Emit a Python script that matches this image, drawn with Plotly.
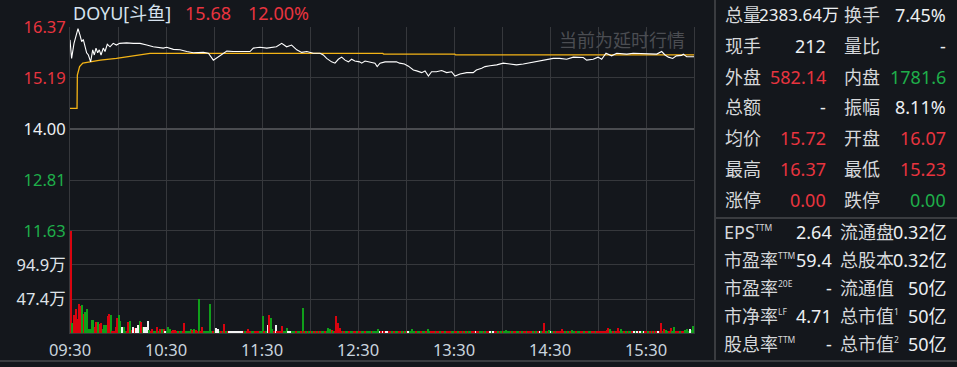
import plotly.graph_objects as go

# ---------------- data ----------------
# minutes after 09:30 for the price line
price_min = [0, 1, 2.5, 3.75, 5, 6.25, 7.3, 8.3, 9.4, 10.4, 11.5, 12.9, 14.2, 15.2, 16.25, 17.3, 18.3, 19.4,
             20.8, 21.9, 23.3, 25, 27, 29, 31, 35.4, 39.6, 43.75, 48, 52, 58.3, 60.4, 64.6, 68.75, 73, 77,
             83.3, 86.5, 89.6, 92.7, 95.8, 98, 102, 112.5, 114.6, 118.75, 123, 129, 132.3, 135.4, 138.5,
             141.7, 144.8, 148, 152, 156.25, 158.3, 160.4, 163.5, 165.6, 167.7, 169.8, 171.9, 174, 176, 178,
             181, 182.3, 184.4, 187.5, 190.6, 192, 193.75, 196.9, 200, 204, 206, 209, 211.5, 214.6, 216.7,
             219.8, 221.9, 224, 226, 229, 232.3, 235.4, 238.5, 240.6, 243.75, 248, 252, 254, 257.3, 259.4,
             262.5, 266.7, 270.8, 275, 279, 283.3, 287.5, 291.7, 297.9, 302, 306, 310.4, 314.6, 320.8,
             322.9, 327, 330, 332.3, 335, 338.5, 341.7, 348, 352, 360.4, 366.7, 369.8, 371.9, 374, 376.7,
             379, 382.3, 383.3, 385.4, 390]
price_val = [16.07, 15.64, 15.99, 16.15, 16.33, 16.18, 16.03, 16.08, 15.91, 15.77, 15.72, 15.56, 15.84, 15.72,
             15.88, 15.77, 15.84, 15.72, 15.88, 15.80, 15.97, 15.91, 15.99, 15.95, 15.99, 16.00, 15.99, 15.99,
             15.95, 15.91, 15.88, 15.90, 15.85, 15.84, 15.80, 15.77, 15.78, 15.76, 15.60, 15.68, 15.77, 15.81,
             15.80, 15.80, 15.88, 15.90, 15.88, 15.91, 15.99, 15.91, 15.95, 15.84, 15.78, 15.80, 15.76, 15.76,
             15.72, 15.64, 15.56, 15.53, 15.62, 15.67, 15.60, 15.56, 15.62, 15.58, 15.56, 15.53, 15.58, 15.55,
             15.53, 15.45, 15.53, 15.56, 15.56, 15.56, 15.53, 15.51, 15.46, 15.37, 15.35, 15.31, 15.35, 15.23,
             15.33, 15.33, 15.36, 15.31, 15.33, 15.23, 15.28, 15.31, 15.31, 15.37, 15.41, 15.45, 15.47, 15.49,
             15.53, 15.51, 15.49, 15.51, 15.54, 15.56, 15.60, 15.64, 15.64, 15.62, 15.67, 15.66, 15.60, 15.62,
             15.67, 15.62, 15.76, 15.70, 15.76, 15.74, 15.76, 15.74, 15.74, 15.80, 15.72, 15.67, 15.64, 15.70,
             15.71, 15.74, 15.68, 15.68]

avg_min = [0, 4.4, 4.6, 6, 8, 12, 19, 29, 40, 50, 195.5, 196, 240.5, 241, 390]
avg_val = [14.48, 14.48, 15.25, 15.45, 15.53, 15.56, 15.60, 15.64, 15.70, 15.755, 15.755, 15.74, 15.74, 15.72, 15.72]

# per-minute volume (万股) and direction (R up, G down, W flat)
volume = [
    180, 14, 25, 34, 20, 41, 38, 39, 27, 30, 34, 6, 6, 18, 18, 9, 15, 16, 13, 14,
    6, 11, 11, 24, 26, 25, 3, 2, 8, 21, 25, 17, 8, 8, 3, 3, 15, 17, 4, 8,
    7, 7, 11, 17, 15, 8, 8, 8, 17, 4, 3, 5, 2, 3, 8, 3, 6, 6, 6, 3,
    3, 8, 6, 3, 4, 4, 2, 2, 3, 2, 2, 14, 2, 2, 2, 6, 4, 6, 4, 3,
    48, 3, 9, 3, 3, 2, 3, 41, 3, 3, 3, 7, 6, 2, 3, 2, 12, 3, 2, 3,
    3, 3, 3, 3, 3, 3, 3, 3, 2, 2, 3, 5, 2, 3, 3, 2, 3, 3, 2, 3,
    24, 3, 2, 11, 25, 21, 6, 2, 11, 3, 3, 3, 10, 3, 3, 7, 3, 2, 2, 3,
    3, 3, 3, 2, 3, 35, 3, 2, 3, 3, 3, 2, 3, 3, 2, 3, 2, 3,
    3, 2, 3, 7, 6, 4, 2, 3, 24, 14, 7, 3, 2, 2, 3, 3, 2, 2, 3, 3,
    2, 2, 3, 2, 3, 3, 2, 2, 3, 3, 2, 2, 3, 2, 5, 3, 2, 3, 2, 3,
    2, 3, 3, 3, 2, 3, 3, 3, 2, 3, 2, 2, 2, 2, 3, 6, 3, 3, 2, 3,
    3, 2, 3, 2, 3, 5, 2, 3, 3, 3, 3, 3, 3, 3, 2, 3, 3, 3,
    3, 3, 3, 3, 2, 3, 3, 3, 2, 3, 2, 3, 2, 2, 2, 3, 3, 2, 3, 2,
    3, 3, 2, 2, 2, 2, 3, 2, 3, 2, 2, 2, 3, 3, 2, 3, 4, 3, 3, 2,
    3, 3, 3, 2, 2, 2, 3, 3, 3, 2, 3, 3, 2, 2, 3, 2, 3, 3, 2, 3,
    14, 3, 2, 4, 3, 3, 2, 2, 3, 3, 2, 6, 3, 3, 2, 2, 3, 4,
    3, 2, 3, 2, 3, 2, 3, 2, 3, 2, 3, 2, 3, 2, 2, 3, 2, 3, 2, 3,
    3, 4, 7, 6, 3, 2, 3, 3, 7, 3, 5, 3, 2, 3, 2, 3, 2, 2, 3, 2,
    3, 2, 3, 2, 3, 3, 3, 3, 2, 3, 3, 3, 3, 3, 3, 14, 3, 6, 4, 3,
    3, 7, 3, 8, 3, 2, 3, 3, 3, 3, 4, 5, 3, 5, 4, 10,
]
direction = (
    "RGRRRRRGRG" "GGGGGRRGRR" "GGGRRGRRRR" "GGWGGRRGRW" "RWWGRGWWWG" "RRGGRGRGRW" "GGGRRRRGRG" "RRGGGGRGRR"
    "GRRGGGGGGR" "GWWGRGRGRW" "WWWWWWWWRG" "RRRGGRRRGG" "GRGWRGGRWR" "RRRGGGWWGG" "GRGGRGRGRG" "RGRGRGRG"
    "GRGGGRGRRR" "RRGRGGRGGR" "RGRRGGRGGG" "RGGGGWRWRW" "WRRGRGGRRG" "RGRWGGGGRG" "GRGGRGGRRR" "GRRGRRGR"
    "RRGGRRGRRG" "RGRGGRRWRR" "GGRGRRWGWR" "RGRGRGGGGR" "GRRGGRGRRG" "RRRGRGRWGR" "RGRGWGRGRR" "RRRGRGRG"
    "GGRGGRRGRR" "GGRRGRRRRR" "RRRGGRGRRR" "GGRGRGGRWG" "WRWGWRRGRG" "RGRWRRGRGG" "RRGGRRRGRR" "GGGWGG"
)
vol_colors = {"R": "#d9040f", "G": "#109f1a", "W": "#f2f2f2"}

label_ticks = [0, 60, 120, 180, 240, 300, 360]
time_labels = ["09:30", "10:30", "11:30", "12:30", "13:30", "14:30", "15:30"]

price_ticks = [11.63, 12.81, 14.00, 15.19, 16.37]
price_tick_colors = ["#1fae4a", "#1fae4a", "#eef1f4", "#e8343f", "#e8343f"]
vol_ticks = [47.4, 94.9]
vol_tick_labels = ["47.4万", "94.9万"]
vol_top = 142.3
prev_close = 14.00

RED, GREEN, WHITE, LABEL = "#e8343f", "#1fae4a", "#eceff2", "#d6d8db"
SUP = '<sup><span style="font-size:8.5px">{}</span></sup>'
quote_rows = [
    ("总量", "2383.64万", WHITE, "换手", "7.45%", WHITE),
    ("现手", "212", WHITE, "量比", "-", WHITE),
    ("外盘", "582.14", RED, "内盘", "1781.6", GREEN),
    ("总额", "-", WHITE, "振幅", "8.11%", WHITE),
    ("均价", "15.72", RED, "开盘", "16.07", RED),
    ("最高", "16.37", RED, "最低", "15.23", RED),
    ("涨停", "0.00", RED, "跌停", "0.00", GREEN),
]
fund_rows = [
    ("EPS", "TTM", "2.64", "流通盘", "", "0.32亿"),
    ("市盈率", "TTM", "59.4", "总股本", "", "0.32亿"),
    ("市盈率", "20E", "-", "流通值", "", "50亿"),
    ("市净率", "LF", "4.71", "总市值", "1", "50亿"),
    ("股息率", "TTM", "-", "总市值", "2", "50亿"),
]

# ---------------- layout helpers ----------------
W, H = 957, 367
L, R, T, B = 70, 263, 27, 34
PW, PH = W - L - R, H - T - B
FONT = "Noto Sans, Noto Sans CJK SC, sans-serif"
BG = "#14171c"
GRID = "#36383c"


def px(x):
    return (x - L) / PW


def py(y):
    return (H - B - y) / PH


fig = go.Figure()

fig.add_trace(go.Bar(
    x=[i + 0.5 for i in range(len(volume))], y=volume, yaxis="y2", xaxis="x",
    marker=dict(color=[vol_colors[c] for c in direction[:len(volume)]], line=dict(width=0)),
    width=0.55, hoverinfo="skip", showlegend=False,
))
fig.add_trace(go.Scatter(
    x=avg_min, y=avg_val, mode="lines", line=dict(color="#f4b416", width=1.3),
    hoverinfo="skip", showlegend=False,
))
fig.add_trace(go.Scatter(
    x=price_min, y=price_val, mode="lines", line=dict(color="#ffffff", width=1.1),
    hoverinfo="skip", showlegend=False,
))

annotations = []


def ann(text, x, y, color, size=18, anchor="left"):
    annotations.append(dict(text=text, x=px(x), y=py(y), xref="paper", yref="paper",
                            xanchor=anchor, yanchor="middle", showarrow=False,
                            font=dict(family=FONT, size=size, color=color)))


# header
ann("DOYU[斗鱼]", 71, 13, "#d6e2ee")
ann("15.68", 183, 13, RED)
ann("12.00%", 246, 13, RED)
ann("当前为延时行情", 687, 40, "#4b4d52", anchor="right")

# quote block
for i, (l1, v1, c1, l2, v2, c2) in enumerate(quote_rows):
    yy = 15 + i * 30.8
    ann(l1, 723, yy, LABEL)
    if i == 0:
        ann(v1, 841, yy, c1, size=17, anchor="right")
    else:
        ann(v1, 828, yy, c1, anchor="right")
    ann(l2, 842, yy, LABEL)
    ann(v2, 948, yy, c2, anchor="right")

for i, (l1, s1, v1, l2, s2, v2) in enumerate(fund_rows):
    yy = 232 + i * 27.9
    ann(l1 + SUP.format(s1), 722, yy, LABEL)
    ann(v1, 834, yy, WHITE, anchor="right")
    ann(l2 + (SUP.format(s2) if s2 else ""), 838, yy, LABEL)
    ann(v2, 949, yy, WHITE, anchor="right")

shapes = [
    dict(type="line", xref="paper", yref="y", x0=0, x1=1, y0=prev_close, y1=prev_close,
         line=dict(color="#4a4c50", width=2)),
    dict(type="line", xref="paper", yref="paper", x0=px(715), x1=px(715), y0=py(0), y1=py(361),
         line=dict(color="#3a3c40", width=2)),
    dict(type="line", xref="paper", yref="paper", x0=px(715), x1=px(W), y0=py(218), y1=py(218),
         line=dict(color="#3a3c40", width=2)),
    dict(type="line", xref="paper", yref="paper", x0=px(0), x1=px(W), y0=py(361), y1=py(361),
         line=dict(color="#3a3c40", width=2)),
]

split = (H - B - 231) / PH

fig.update_layout(
    width=W, height=H, margin=dict(l=L, r=R, t=T, b=B, pad=0, autoexpand=False),
    paper_bgcolor=BG, plot_bgcolor=BG, bargap=0, showlegend=False,
    font=dict(family=FONT, color="#d6d8db"),
    xaxis=dict(range=[0, 390], tickvals=label_ticks, ticktext=time_labels, showgrid=True,
               gridcolor=GRID, gridwidth=1, zeroline=False, showline=True, mirror=True,
               minor=dict(tick0=0, dtick=30, showgrid=True, gridcolor=GRID, gridwidth=1, ticks=""),
               linecolor=GRID, linewidth=1, ticks="", anchor="y2", ticklabelstandoff=2,
               automargin=False,
               tickfont=dict(family=FONT, size=16.5, color="#c9d4de")),
    yaxis=dict(domain=[split, 1], range=[11.63, 16.37], tickvals=price_ticks,
               ticktext=[f'<span style="color:{c}">{v:.2f}</span>' for v, c in zip(price_ticks, price_tick_colors)],
               showgrid=True, gridcolor=GRID, gridwidth=1, zeroline=False, showline=True, mirror=True,
               linecolor=GRID, linewidth=1, ticks="", anchor="x", automargin=False,
               tickfont=dict(family=FONT, size=16.5)),
    yaxis2=dict(domain=[0, split], range=[0, vol_top], tickvals=vol_ticks, ticktext=vol_tick_labels,
                showgrid=True, gridcolor=GRID, gridwidth=1, zeroline=False, showline=True, mirror=True,
                linecolor=GRID, linewidth=1, ticks="", anchor="x", automargin=False,
                tickfont=dict(family=FONT, size=16.5, color="#dfe3e8")),
    annotations=annotations,
    shapes=shapes,
)

fig.write_html("out.html", config={"displayModeBar": False})
